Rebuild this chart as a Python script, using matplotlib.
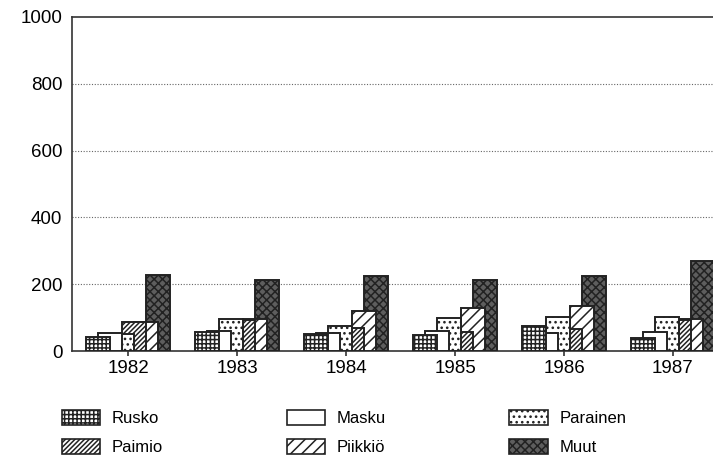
import matplotlib.pyplot as plt
import numpy as np
from matplotlib.patches import Patch

plt.rcParams['font.family'] = ['Liberation Sans', 'DejaVu Sans']
plt.rcParams['hatch.linewidth'] = 1.1

# vuodet ja kuntien arvot (luettu kuvasta)
years = [1982, 1983, 1984, 1985, 1986, 1987]
rusko = [43, 57, 51, 48, 75, 40]
masku = [54, 61, 55, 60, 55, 57]
parainen = [50, 96, 75, 99, 102, 102]
paimio = [88, 93, 70, 57, 66, 93]
piikkio = [88, 96, 120, 129, 134, 96]
muut = [227, 212, 225, 212, 224, 270]

series = [
    ('Rusko', rusko, 'white', '++++'),
    ('Masku', masku, 'white', ''),
    ('Parainen', parainen, 'white', '...'),
    ('Paimio', paimio, 'white', '///////'),
    ('Piikkiö', piikkio, 'white', '///'),
    ('Muut', muut, '#5e5e5e', 'xxxx'),
]

fig = plt.figure(figsize=(7.13, 4.59), dpi=100)
ax = fig.add_axes([0.101, 0.235, 0.899, 0.728])

x = np.array(years, dtype=float)
step = 0.11
width = 0.22
handles = []
for i, (name, vals, fc, hatch) in enumerate(series):
    offs = (i - 2.5) * step
    ax.bar(x + offs, vals, width=width, color=fc, edgecolor='#222222',
           hatch=hatch, linewidth=1.4, zorder=10 - i)
    handles.append(Patch(facecolor=fc, edgecolor='#222222', hatch=hatch,
                         linewidth=1.2, label=name))

ax.set_ylim(0, 1000)
ax.set_xlim(1981.486, 1987.367)
ax.set_yticks([0, 200, 400, 600, 800, 1000])
ax.set_xticks(years)
ax.tick_params(axis='y', length=0, pad=7, labelsize=13.5)
ax.tick_params(axis='x', length=7, width=1.2, direction='inout', labelsize=13.5,
               color='#333333', pad=3)
for yv in [200, 400, 600, 800]:
    ax.axhline(yv, color='#666666', linestyle=(0, (1, 1.5)), linewidth=0.8, zorder=1)
ax.spines['right'].set_visible(False)
for s in ['left', 'top', 'bottom']:
    ax.spines[s].set_color('#333333')
    ax.spines[s].set_linewidth(1.2)

# legenda: rivit Rusko/Masku/Parainen ja Paimio/Piikkiö/Muut
order = [0, 3, 1, 4, 2, 5]
fig.legend([handles[k] for k in order], [series[k][0] for k in order],
           ncol=3, loc='upper left', bbox_to_anchor=(0.066, 0.14),
           frameon=False, fontsize=12, handlelength=2.3, handleheight=1.0,
           columnspacing=7.4, labelspacing=0.8, handletextpad=0.7)

fig.savefig('out.png', dpi=100)
